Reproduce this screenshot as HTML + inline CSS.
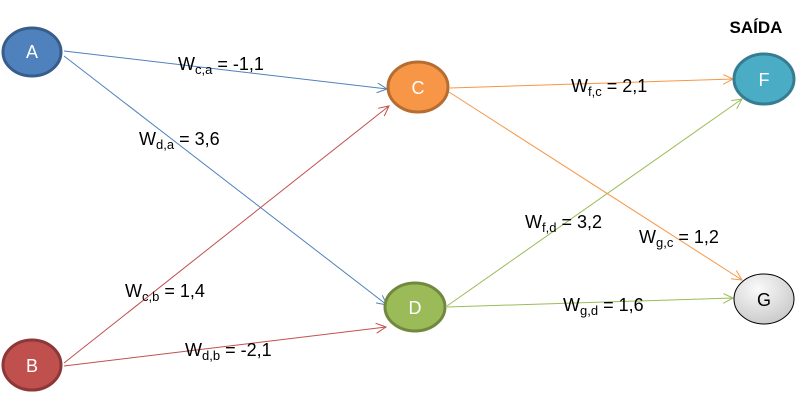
<!DOCTYPE html>
<html><head><meta charset="utf-8"><style>
html,body{margin:0;padding:0;background:#fff;width:806px;height:402px;overflow:hidden}
text{font-family:"Liberation Sans",sans-serif}
</style></head><body>
<svg width="806" height="402" viewBox="0 0 806 402" xmlns="http://www.w3.org/2000/svg">
<defs>
<marker id="mb" markerWidth="12" markerHeight="12" refX="10" refY="5" orient="auto" markerUnits="userSpaceOnUse"><path d="M0,0 L10,5 L0,10" fill="none" stroke="#4f81bd" stroke-width="1"/></marker>
<marker id="mr" markerWidth="12" markerHeight="12" refX="10" refY="5" orient="auto" markerUnits="userSpaceOnUse"><path d="M0,0 L10,5 L0,10" fill="none" stroke="#c0504d" stroke-width="1"/></marker>
<marker id="mo" markerWidth="12" markerHeight="12" refX="10" refY="5" orient="auto" markerUnits="userSpaceOnUse"><path d="M0,0 L10,5 L0,10" fill="none" stroke="#f79646" stroke-width="1"/></marker>
<marker id="mg" markerWidth="12" markerHeight="12" refX="10" refY="5" orient="auto" markerUnits="userSpaceOnUse"><path d="M0,0 L10,5 L0,10" fill="none" stroke="#9bbb59" stroke-width="1"/></marker>
<radialGradient id="gg" cx="40%" cy="30%" r="75%"><stop offset="0" stop-color="#fafafa"/><stop offset="1" stop-color="#c8c8c8"/></radialGradient>
</defs>
<g stroke-width="1" fill="none">
<line x1="64" y1="51" x2="387" y2="89" stroke="#4f81bd" marker-end="url(#mb)"/>
<line x1="64" y1="56" x2="387" y2="305" stroke="#4f81bd" marker-end="url(#mb)"/>
<line x1="64" y1="363" x2="389" y2="106" stroke="#c0504d" marker-end="url(#mr)"/>
<line x1="64" y1="366" x2="386" y2="327" stroke="#c0504d" marker-end="url(#mr)"/>
<line x1="450" y1="88" x2="733" y2="79" stroke="#f79646" marker-end="url(#mo)"/>
<line x1="449" y1="92" x2="742" y2="280" stroke="#f79646" marker-end="url(#mo)"/>
<line x1="447" y1="306" x2="742" y2="99" stroke="#9bbb59" marker-end="url(#mg)"/>
<line x1="447" y1="307" x2="733" y2="298" stroke="#9bbb59" marker-end="url(#mg)"/>
</g>
<ellipse cx="32" cy="52" rx="29" ry="24" fill="#4f81bd" stroke="#385d8a" stroke-width="3"/>
<ellipse cx="32" cy="365" rx="29" ry="25" fill="#c0504d" stroke="#8c3836" stroke-width="3"/>
<ellipse cx="418" cy="87" rx="30" ry="25" fill="#f79646" stroke="#b66d31" stroke-width="3"/>
<ellipse cx="415" cy="307" rx="30" ry="24" fill="#9bbb59" stroke="#71893f" stroke-width="3"/>
<ellipse cx="764" cy="79" rx="30" ry="25" fill="#4bacc6" stroke="#357d91" stroke-width="3"/>
<ellipse cx="764" cy="299" rx="30" ry="25" fill="url(#gg)" stroke="#000" stroke-width="1"/>
<g font-size="18" fill="#fff" text-anchor="middle">
<text x="32" y="58">A</text>
<text x="32" y="372">B</text>
<text x="418" y="94">C</text>
<text x="415" y="314">D</text>
<text x="764" y="86">F</text>
<text x="764" y="306" fill="#000">G</text>
</g>
<text x="756" y="33" font-size="17" font-weight="bold" text-anchor="middle" fill="#000">SAÍDA</text>
<g font-size="18" fill="#000">
<text x="178" y="70">W<tspan font-size="13" dy="4">c,a</tspan><tspan dy="-4"> = -1,1</tspan></text>
<text x="139" y="145">W<tspan font-size="13" dy="4">d,a</tspan><tspan dy="-4"> = 3,6</tspan></text>
<text x="125" y="297">W<tspan font-size="13" dy="4">c,b</tspan><tspan dy="-4"> = 1,4</tspan></text>
<text x="185" y="356">W<tspan font-size="13" dy="4">d,b</tspan><tspan dy="-4"> = -2,1</tspan></text>
<text x="571" y="92">W<tspan font-size="13" dy="4">f,c</tspan><tspan dy="-4"> = 2,1</tspan></text>
<text x="525" y="228">W<tspan font-size="13" dy="4">f,d</tspan><tspan dy="-4"> = 3,2</tspan></text>
<text x="639" y="243">W<tspan font-size="13" dy="4">g,c</tspan><tspan dy="-4"> = 1,2</tspan></text>
<text x="563" y="311">W<tspan font-size="13" dy="4">g,d</tspan><tspan dy="-4"> = 1,6</tspan></text>
</g>
</svg>
</body></html>
